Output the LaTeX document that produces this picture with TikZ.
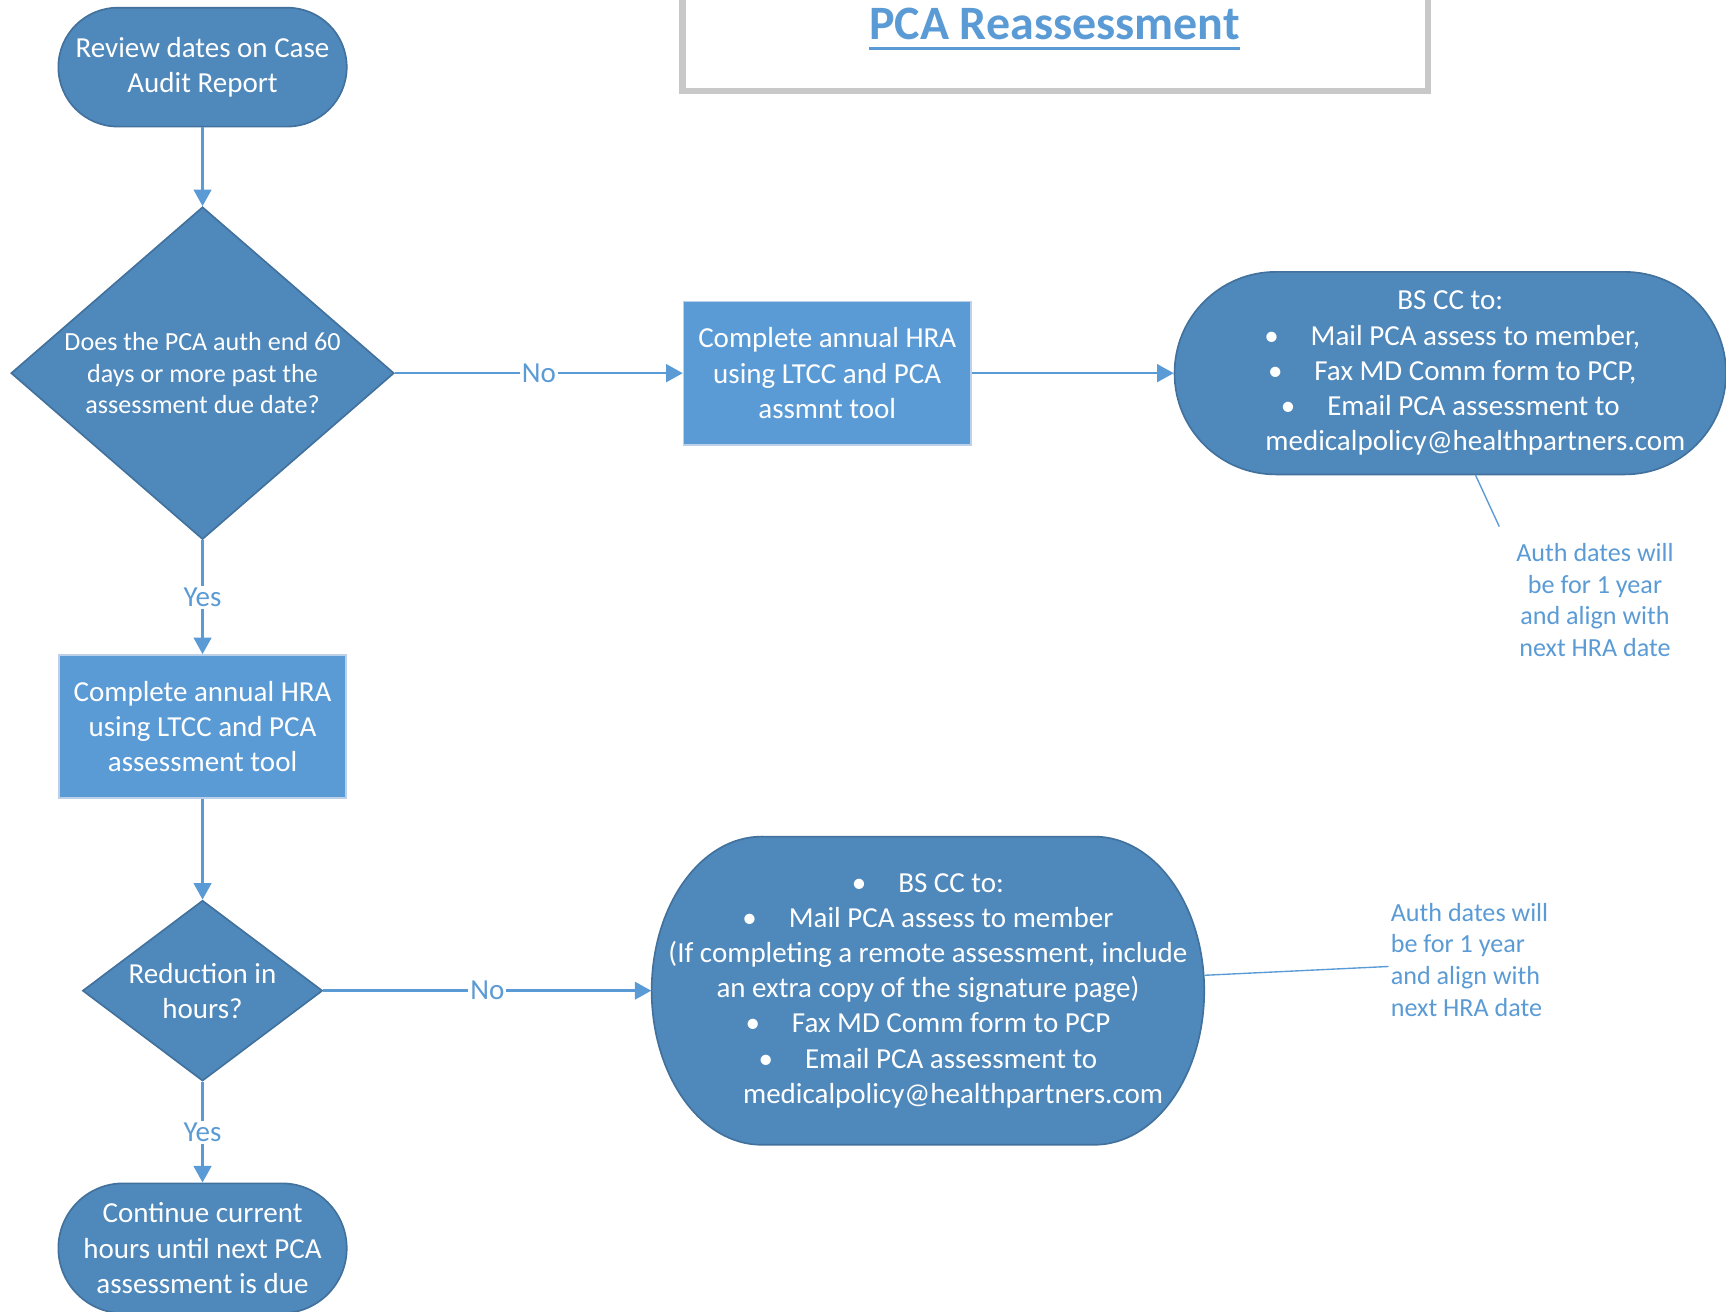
\documentclass[tikz,border=0pt]{standalone}
\usepackage{fontspec}
\setmainfont{Carlito}
\usetikzlibrary{shapes.geometric,arrows.meta}

\definecolor{shapefill}{HTML}{4F88BB}
\definecolor{shapeline}{HTML}{41719C}
\definecolor{boxfill}{HTML}{5B9BD5}
\definecolor{boxline}{HTML}{BDD0E9}
\definecolor{linkblue}{HTML}{5B9BD5}
\definecolor{framegray}{HTML}{C8C8C8}

\newcommand{\bul}{\textbullet\hspace{1.1em}}

\tikzset{
  basetxt/.style={text=white,align=center,inner sep=0pt,font=\fontsize{15}{18.2}\selectfont},
  term/.style={basetxt,rectangle,rounded corners=10.8mm,fill=shapefill,draw=shapeline,line width=0.3mm},
  task/.style={basetxt,rectangle,fill=boxfill,draw=boxline,line width=0.3mm},
  decide/.style={basetxt,diamond,fill=shapefill,draw=shapeline,line width=0.3mm},
  flow/.style={draw=linkblue,line width=0.45mm,-{Triangle[length=3mm,width=3.2mm]}},
  lbl/.style={fill=white,text=linkblue,inner sep=1pt,font=\fontsize{15}{18.2}\selectfont},
  note/.style={text=linkblue,inner sep=1pt,font=\fontsize{13.5}{16.4}\selectfont},
  tie/.style={draw=linkblue,line width=0.25mm}
}

\begin{document}
\begin{tikzpicture}[x=0.2mm,y=-0.2mm]
\useasboundingbox (0,0) rectangle (1568,1191);

% title box
\draw[framegray,line width=1.1mm] (620,-40) rectangle (1297,83);
\node[text=linkblue,inner sep=0pt,font=\fontsize{24.8}{30}\selectfont\bfseries] (title) at (958,22) {PCA Reassessment};
\draw[linkblue,line width=0.6mm] ([yshift=-1.6mm]title.base west) -- ([yshift=-1.6mm]title.base east);

% left column
\node[term,minimum width=52.4mm,minimum height=21.6mm] (review) at (184,61) {Review dates on Case\\Audit Report};
\node[decide,aspect=1.152,minimum width=69.6mm,minimum height=60.4mm,font=\fontsize{13.5}{16.4}\selectfont] (q1) at (184,339)
  {Does the PCA auth end 60\\days or more past the\\assessment due date?};
\node[task,minimum width=52.2mm,minimum height=26mm] (hra2) at (184,660) {Complete annual HRA\\using LTCC and PCA\\assessment tool};
\node[decide,aspect=1.33,minimum width=43.6mm,minimum height=32.8mm] (q2) at (184,900) {Reduction in\\hours?};
\node[term,rounded corners=11.8mm,minimum width=52.4mm,minimum height=23.6mm] (keep) at (184,1134)
  {Continue current\\hours until next PCA\\assessment is due};

% upper row
\node[task,minimum width=52.2mm,minimum height=26mm] (hra1) at (751.5,339) {Complete annual HRA\\using LTCC and PCA\\assmnt tool};
\node[term,rounded corners=18.4mm,minimum width=100.2mm,minimum height=36.8mm] (bscc1) at (1317.5,339)
  {BS CC to:\\\hspace*{2pt}\bul Mail PCA assess to member,\\\hspace*{2pt}\bul Fax MD Comm form to PCP,\\\bul Email PCA assessment to\\\hspace*{26pt}medicalpolicy@healthpartners.com};
\node[note,align=center] (note1) at (1449,545) {Auth dates will\\be for 1 year\\and align with\\next HRA date};

% lower row
\draw[fill=shapefill,draw=shapeline,line width=0.3mm] (692,760) -- (994,760)
  arc[start angle=90,end angle=-90,x radius=20mm,y radius=28mm] -- (692,1040)
  arc[start angle=270,end angle=90,x radius=20mm,y radius=28mm] -- cycle;
\node[basetxt,minimum width=100.4mm,minimum height=56mm] (bscc2) at (843,900)
  {\bul BS CC to:\\\bul Mail PCA assess to member\\(If completing a remote assessment, include\\an extra copy of the signature page)\\\bul Fax MD Comm form to PCP\\\bul Email PCA assessment to\\\hspace*{26pt}medicalpolicy@healthpartners.com};
\node[note,align=left] (note2) at (1335,872) {Auth dates will\\be for 1 year\\and align with\\next HRA date};

% connectors
\draw[flow] (review) -- (q1);
\draw[flow] (q1) -- node[lbl]{No} (hra1);
\draw[flow] (hra1) -- (bscc1);
\draw[flow] (q1) -- node[lbl]{Yes} (hra2);
\draw[flow] (hra2) -- (q2);
\draw[flow] (q2) -- node[lbl]{No} (bscc2);
\draw[flow] (q2) -- node[lbl]{Yes} (keep);

\draw[tie] ([xshift=4.6mm]bscc1.south) -- ([xshift=-17.4mm,yshift=2.6mm]note1.north);
\draw[tie] ([yshift=2.8mm]bscc2.east) -- ([yshift=-1.2mm]note2.west);
\end{tikzpicture}
\end{document}
